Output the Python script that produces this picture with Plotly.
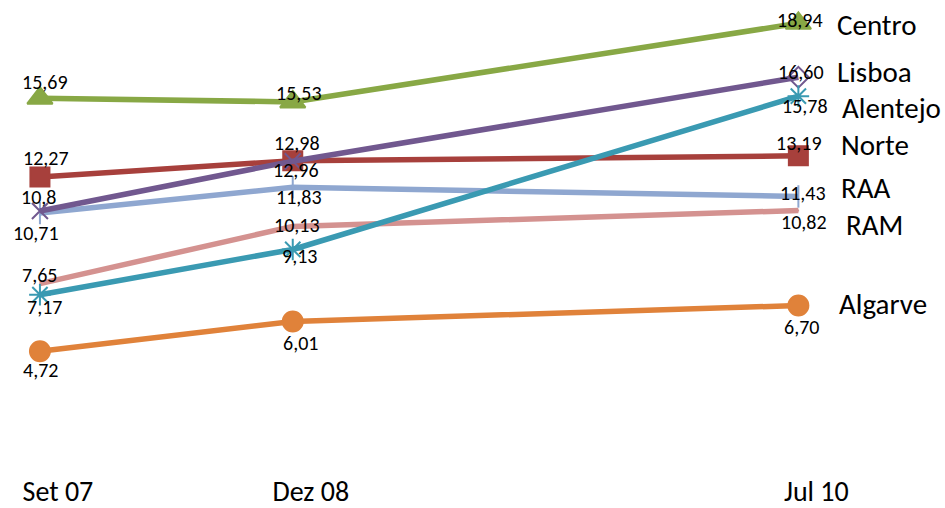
import plotly.graph_objects as go

periods = ["Set 07", "Dez 08", "Jul 10"]
period_pos = [0, 1, 3]  # relative horizontal spacing of periods

series_names = ["Norte", "RAA", "RAM", "Lisboa", "Centro", "Alentejo", "Algarve"]
norte = [12.27, 12.98, 13.19]
raa = [10.71, 11.83, 11.43]
ram = [7.65, 10.13, 10.82]
lisboa = [10.8, 12.96, 16.60]
centro = [15.69, 15.53, 18.94]
alentejo = [7.17, 9.13, 15.78]
algarve = [4.72, 6.01, 6.70]
values = [norte, raa, ram, lisboa, centro, alentejo, algarve]
value_text = {"Lisboa": ["10,8", "12,96", "16,60"]}

styles = {
    "Norte":    dict(color="#A7403C", symbol="square", size=19, lw=5.5),
    "RAA":      dict(color="#8FA7D0", symbol="line-ns-open", size=16, lw=5.5),
    "RAM":      dict(color="#D49290", symbol="line-ew-open", size=1, lw=5.5),
    "Lisboa":   dict(color="#71588F", symbol=["x-thin-open", "x-thin-open", "diamond-open"], size=16, lw=5.5),
    "Centro":   dict(color="#88A845", symbol="triangle-up", size=22, lw=5.5),
    "Alentejo": dict(color="#3A9AB2", symbol="asterisk-open", size=18, lw=5.5),
    "Algarve":  dict(color="#E0823A", symbol="circle", size=20, lw=5.5),
}
# value-label pixel offsets (dx, dy) per series point
label_off = {
    "Norte":    [(6, 19), (4, 18), (1, 13)],
    "RAA":      [(-4, -20), (6, -10), (5, 3)],
    "RAM":      [(0, 9), (4, 1), (6, -11)],
    "Lisboa":   [(-1, 14), (3, -9), (3, 5)],
    "Centro":   [(5, 16), (6, 9), (2, 3)],
    "Alentejo": [(5, -12), (7, -7), (7, -10)],
    "Algarve":  [(1, -19), (8, -22), (3, -21)],
}
# series-name pixel offsets (dx, dy) at the last point
name_off = {
    "Centro": (37, -2), "Lisboa": (37, 5), "Alentejo": (42, -12), "Norte": (41, 11),
    "RAA": (41, 8), "RAM": (46, -14), "Algarve": (39, 2),
}

FONT = "Carlito, Calibri, Liberation Sans, Arial, sans-serif"

fig = go.Figure()
for name, vals in zip(series_names, values):
    s = styles[name]
    fig.add_trace(go.Scatter(
        x=period_pos, y=vals, mode="lines+markers", name=name,
        line=dict(color=s["color"], width=s["lw"]),
        marker=dict(symbol=s["symbol"], size=s["size"], color=s["color"],
                    line=dict(color=s["color"], width=2)),
        showlegend=False,
    ))

annotations = []
for name, vals in zip(series_names, values):
    texts = value_text.get(name, [f"{v:.2f}".replace(".", ",") for v in vals])
    for i, v in enumerate(vals):
        dx, dy = label_off[name][i]
        annotations.append(dict(x=period_pos[i], y=v, text=texts[i], showarrow=False,
                                xshift=dx, yshift=dy, xanchor="center", yanchor="middle",
                                borderpad=0,
                                font=dict(family=FONT, size=20, color="#000000")))
    dx, dy = name_off[name]
    annotations.append(dict(x=period_pos[-1], y=vals[-1], text=name, showarrow=False,
                            xshift=dx, yshift=dy, xanchor="left", yanchor="middle",
                            font=dict(family=FONT, size=29, color="#000000")))

fig.update_layout(
    width=945, height=508,
    margin=dict(l=0, r=0, t=0, b=48),
    paper_bgcolor="white", plot_bgcolor="white",
    annotations=annotations,
    xaxis=dict(range=[-0.158, 3.58], tickvals=period_pos, ticktext=periods,
               showgrid=False, zeroline=False, showline=False, ticks="",
               tickfont=dict(family=FONT, size=28, color="#000000"),
               ticklabelshift=18, ticklabelstandoff=12),
    yaxis=dict(range=[0, 19.95], showgrid=False, zeroline=False, showline=False,
               showticklabels=False, ticks=""),
)
fig.write_html("out.html")
